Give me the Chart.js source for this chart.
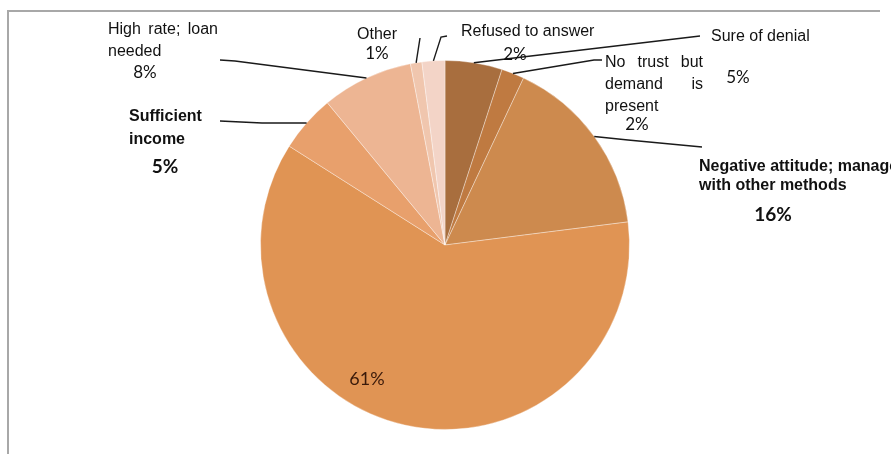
<!DOCTYPE html>
<html>
<head>
<meta charset="utf-8">
<script src="https://cdn.jsdelivr.net/npm/chart.js@4"></script>
<style>
  html, body { margin: 0; padding: 0; background: #fff; }
  canvas { display: block; }
</style>
</head>
<body>
<canvas id="pieCanvas" width="891" height="454"></canvas>
<script>
  // answers, clockwise from 12 o'clock
  const categories = [
    'Sure of denial',
    'No trust but demand is present',
    'Negative attitude; manage with other methods',
    '',
    'Sufficient income',
    'High rate; loan needed',
    'Other',
    'Refused to answer'
  ];
  const shares = [5, 2, 16, 61, 5, 8, 1, 2];
  const sliceColors = ['#A86E3E', '#BF7A41', '#CD8A4E', '#E09454', '#E8A06C', '#EDB593', '#F0C6AE', '#F3D4C7'];

  const SANS = '"Liberation Sans", Arial, sans-serif';
  const PCT = 'Lato, "Open Sans", sans-serif';

  // label placement for each slice; path goes from the slice edge outwards
  const callouts = [
    { lines: [{ t: 'Sure of denial', x: 711, y: 37 }],
      pct: { x: 738, y: 78 }, path: [[700, 36]] },
    { lines: [{ t: 'No trust but', x: 605, y: 63, w: 98 }, { t: 'demand is', x: 605, y: 85, w: 98 }, { t: 'present', x: 605, y: 107 }],
      pct: { x: 637, y: 125 }, path: [[594, 60], [602, 60]] },
    { lines: [{ t: 'Negative attitude; manage', x: 699, y: 167, bold: true }, { t: 'with other methods', x: 699, y: 186, bold: true }],
      pct: { x: 773, y: 215, bold: true, size: 19 }, path: [[628, 140], [702, 147]] },
    { lines: [], pct: { x: 367, y: 379, size: 18, color: '#3A1A0A' }, path: null },
    { lines: [{ t: 'Sufficient', x: 129, y: 117, bold: true }, { t: 'income', x: 129, y: 140, bold: true }],
      pct: { x: 165, y: 167, bold: true, size: 19 }, path: [[262, 123], [220, 121]] },
    { lines: [{ t: 'High rate; loan', x: 108, y: 30, w: 110 }, { t: 'needed', x: 108, y: 52 }],
      pct: { x: 145, y: 73 }, path: [[235, 61], [220, 60]] },
    { lines: [{ t: 'Other', x: 377, y: 35, center: true }],
      pct: { x: 377, y: 54 }, path: [[420, 38]] },
    { lines: [{ t: 'Refused to answer', x: 461, y: 32 }],
      pct: { x: 515, y: 55 }, path: [[441, 37], [447, 36]] }
  ];

  function drawLine(ctx, item) {
    const size = item.size || 16;
    ctx.font = (item.bold ? 'bold ' : '') + size + 'px ' + SANS;
    ctx.fillStyle = '#111';
    ctx.textBaseline = 'middle';
    if (item.w) {
      // spread words across a fixed width
      const words = item.t.split(' ');
      const total = words.reduce((s, w) => s + ctx.measureText(w).width, 0);
      const gap = (item.w - total) / (words.length - 1);
      let x = item.x;
      ctx.textAlign = 'left';
      words.forEach(w => {
        ctx.fillText(w, x, item.y);
        x += ctx.measureText(w).width + gap;
      });
    } else {
      ctx.textAlign = item.center ? 'center' : 'left';
      ctx.fillText(item.t, item.x, item.y);
    }
  }

  const frame = {
    id: 'frame',
    beforeDraw(chart) {
      const ctx = chart.ctx;
      ctx.save();
      ctx.strokeStyle = '#A8A8A8';
      ctx.lineWidth = 2;
      ctx.beginPath();
      ctx.moveTo(8, 454);
      ctx.lineTo(8, 11);
      ctx.lineTo(880, 11);
      ctx.stroke();
      ctx.restore();
    }
  };

  const callout = {
    id: 'callout',
    afterDraw(chart) {
      const ctx = chart.ctx;
      const arcs = chart.getDatasetMeta(0).data;
      ctx.save();
      arcs.forEach((arc, i) => {
        const c = callouts[i];
        const p = arc.getProps(['x', 'y', 'startAngle', 'endAngle', 'outerRadius'], true);
        if (c.path) {
          const mid = (p.startAngle + p.endAngle) / 2;
          ctx.strokeStyle = '#1A1A1A';
          ctx.lineWidth = 1.4;
          ctx.beginPath();
          ctx.moveTo(p.x + Math.cos(mid) * p.outerRadius, p.y + Math.sin(mid) * p.outerRadius);
          c.path.forEach(pt => ctx.lineTo(pt[0], pt[1]));
          ctx.stroke();
        }
        c.lines.forEach(l => drawLine(ctx, l));
        const size = c.pct.size || 17;
        ctx.font = (c.pct.bold ? 'bold ' : '') + size + 'px ' + PCT;
        ctx.fillStyle = c.pct.color || '#111';
        ctx.textAlign = 'center';
        ctx.textBaseline = 'middle';
        ctx.fillText(shares[i] + '%', c.pct.x, c.pct.y);
      });
      ctx.restore();
    }
  };

  new Chart(document.getElementById('pieCanvas').getContext('2d'), {
    type: 'pie',
    data: {
      labels: categories,
      datasets: [{
        data: shares,
        backgroundColor: sliceColors,
        borderColor: 'rgba(255,255,255,0.35)',
        borderWidth: 1
      }]
    },
    options: {
      responsive: false,
      animation: false,
      layout: { padding: { left: 260, right: 261, top: 60, bottom: 24 } },
      plugins: {
        legend: { display: false },
        tooltip: { enabled: false }
      }
    },
    plugins: [frame, callout]
  });
</script>
</body>
</html>
